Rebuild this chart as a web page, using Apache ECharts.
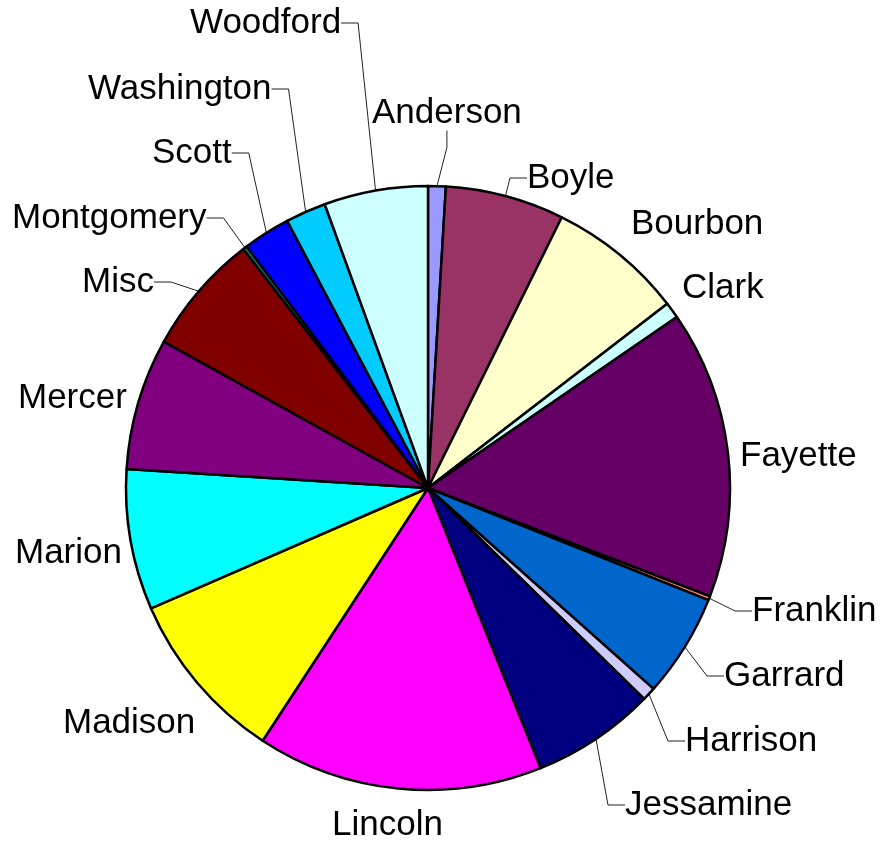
<!DOCTYPE html>
<html>
<head>
<meta charset="utf-8">
<script src="https://cdn.jsdelivr.net/npm/echarts@6/dist/echarts.min.js"></script>
<style>
  html, body { margin: 0; padding: 0; background: #fff; }
  #chart { width: 889px; height: 844px; }
</style>
</head>
<body>
<div id="chart"></div>
<script>
// slices clockwise from 12 o'clock
const counties = ['Anderson', 'Boyle', 'Bourbon', 'Clark', 'Fayette', 'Franklin', 'Garrard', 'Harrison', 'Jessamine',
  'Lincoln', 'Madison', 'Marion', 'Mercer', 'Misc', 'Montgomery', 'Scott', 'Washington', 'Woodford']
const shares = [3.4, 22.9, 26.1, 3.1, 55.5, 0.8, 19.9, 2.6, 23.8,
  55.1, 33.3, 27.1, 25.4, 23.3, 0.8, 9.1, 7.8, 20.0]

const colors = ['#9999ff', '#993366', '#ffffcc', '#ccffff', '#660066', '#ff8080', '#0066cc', '#ccccff', '#000080',
  '#ff00ff', '#ffff00', '#00ffff', '#800080', '#800000', '#008080', '#0000ff', '#00ccff', '#ccffff']

// where each label sits (left edge, middle)
const labelSpots = {
  Anderson: [372, 113], Boyle: [527, 178], Bourbon: [631, 224], Clark: [682, 288], Fayette: [740, 456],
  Franklin: [752, 611], Garrard: [724, 676], Harrison: [685, 741], Jessamine: [625, 805], Lincoln: [332, 825],
  Madison: [63, 723], Marion: [15, 553], Mercer: [18, 398], Misc: [82, 282], Montgomery: [12, 218],
  Scott: [152, 153], Washington: [88, 89], Woodford: [190, 23]
}
const noLine = ['Bourbon', 'Clark', 'Fayette', 'Lincoln', 'Madison', 'Marion', 'Mercer']

const chart = echarts.init(document.getElementById('chart'))

const pieData = counties.map((name, i) => ({
  name: name,
  value: shares[i],
  itemStyle: { color: colors[i] },
  labelLine: { show: noLine.indexOf(name) < 0 }
}))

chart.setOption({
  animation: false,
  series: [{
    type: 'pie',
    center: [428, 488],
    radius: 302,
    startAngle: 90,
    clockwise: true,
    avoidLabelOverlap: false,
    data: pieData,
    itemStyle: {
      borderColor: '#000',
      borderWidth: 2.5
    },
    label: {
      show: true,
      position: 'outside',
      color: '#000',
      fontFamily: 'Liberation Sans, Arial, sans-serif',
      fontSize: 35
    },
    labelLine: {
      length: 15,
      length2: 17,
      smooth: false,
      lineStyle: { color: '#222', width: 1 }
    },
    labelLayout: function (params) {
      const spot = labelSpots[counties[params.dataIndex]]
      return {
        x: spot[0],
        y: spot[1],
        align: 'left',
        verticalAlign: 'middle',
        hideOverlap: false
      }
    }
  }]
})
</script>
</body>
</html>
